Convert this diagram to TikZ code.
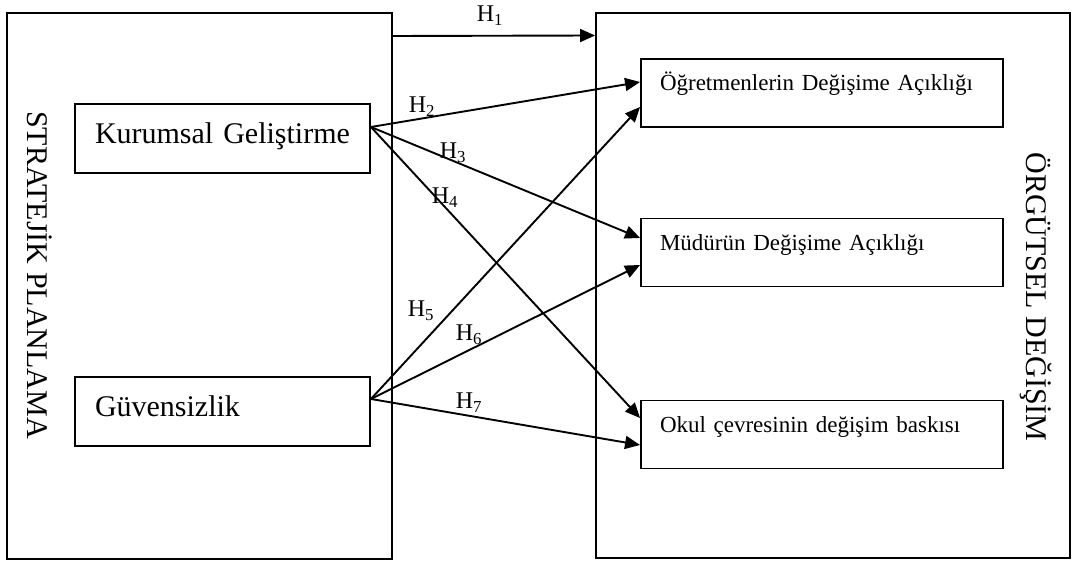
\documentclass[tikz,border=0pt]{standalone}
\usepackage{fontspec}
\setmainfont{Liberation Serif}
\usetikzlibrary{arrows.meta}

\begin{document}
\begin{tikzpicture}[x=1pt, y=-1pt, line width=1.9pt,
	big box/.style={draw,rectangle,inner sep=0pt},
	var node/.style={draw,rectangle,align=left,inner xsep=20pt,inner ysep=0pt,
		text width=255pt,minimum height=69pt,text height=20pt,text depth=10pt,
		font=\fontsize{30}{36}\selectfont},
	out node/.style={draw,rectangle,align=left,inner xsep=19pt,inner ysep=0pt,
		text width=324pt,minimum height=68pt,text height=15pt,text depth=19pt,
		font=\fontsize{23}{28}\selectfont},
	side label/.style={rotate=-90,font=\fontsize{30}{36}\selectfont},
	h label/.style={inner sep=0pt,font=\fontsize{24}{28}\selectfont},
	hyp/.style={-{Triangle[length=15pt,width=13pt]}}]
	
	\useasboundingbox (0,0) rectangle (1072,561);
	
	\node[big box, minimum width=385pt, minimum height=546pt] (sp) at (199.5,286) {};
	\node[big box, minimum width=474pt, minimum height=545pt] (od) at (833,285.5) {};
	\node[side label] (spl) at (40,275) {STRATEJİK PLANLAMA};
	\node[side label] (odl) at (1036,297) {ÖRGÜTSEL DEĞİŞİM};
	
	\node[var node] (kg) at (222.5,138.5) {Kurumsal Geliştirme};
	\node[var node] (gv) at (222.5,411.5) {Güvensizlik};
	\node[out node] (ob) at (822,93) {Öğretmenlerin Değişime Açıklığı};
	\node[out node] (md) at (822,252.5) {Müdürün Değişime Açıklığı};
	\node[out node] (ok) at (822,434.5) {Okul çevresinin değişim baskısı};
	
	\node[h label] (h1) at (490,16) {H\textsubscript{1}};
	\node[h label] (h2) at (422,107) {H\textsubscript{2}};
	\node[h label] (h3) at (453,153) {H\textsubscript{3}};
	\node[h label] (h4) at (445,198) {H\textsubscript{4}};
	\node[h label] (h5) at (421,311) {H\textsubscript{5}};
	\node[h label] (h6) at (469,335) {H\textsubscript{6}};
	\node[h label] (h7) at (469,403) {H\textsubscript{7}};
	
	\path[hyp]
	([yshift=250pt]sp.east) edge ([yshift=250pt]od.west)
	([yshift=11.5pt]kg.east) edge ([yshift=11pt]ob.west)
	edge ([yshift=14.5pt]md.west)
	edge ([yshift=16.5pt]ok.west)
	([yshift=12.5pt]gv.east) edge ([yshift=-14pt]ob.west)
	edge ([yshift=-12.5pt]md.west)
	edge ([yshift=-10.5pt]ok.west);
\end{tikzpicture}
\end{document}
